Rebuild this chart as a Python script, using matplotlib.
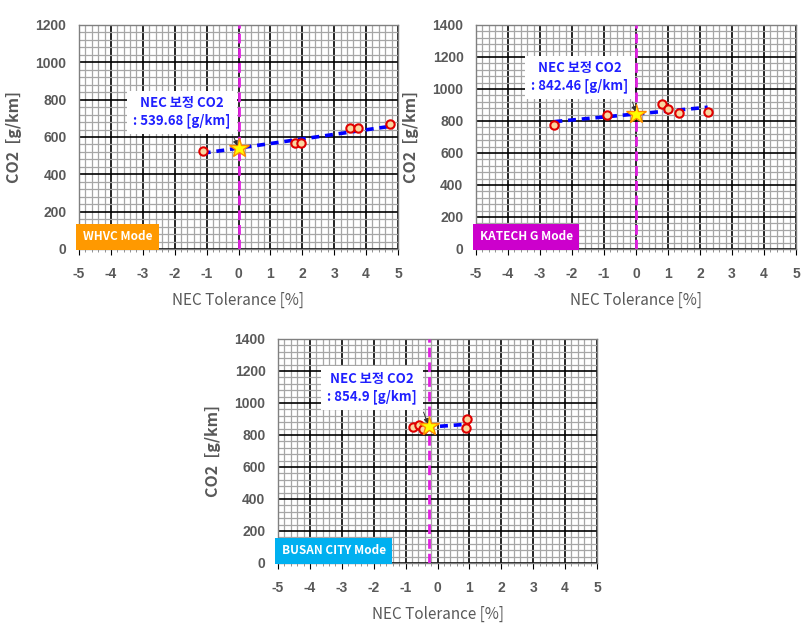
import matplotlib

matplotlib.use("Agg")

import matplotlib.pyplot as plt  # noqa: E402
from matplotlib.ticker import MultipleLocator  # noqa: E402

plt.rcParams["axes.unicode_minus"] = False

# WHVC mode
whvc_x = [-1.12, 1.76, 1.97, 3.50, 3.76, 4.75]
whvc_y = [525, 569, 569, 646, 646, 670]
whvc_trend_x = [-1.12, 4.75]
whvc_trend_y = [513, 657]
whvc_nec_x = 0.0
whvc_nec_y = 539.68
whvc_nec_label = "539.68"

# KATECH G mode
katech_x = [-2.55, -0.90, 0.80, 0.99, 1.35, 2.24]
katech_y = [775, 837, 906, 873, 848, 858]
katech_trend_x = [-2.55, 2.24]
katech_trend_y = [796, 886]
katech_nec_x = 0.0
katech_nec_y = 842.46
katech_nec_label = "842.46"

# BUSAN CITY mode
busan_x = [-0.78, -0.57, -0.45, 0.93, 0.89]
busan_y = [848, 862, 836, 898, 842]
busan_trend_x = [-0.78, 0.92]
busan_trend_y = [842, 867]
busan_nec_x = -0.27
busan_nec_y = 854.9
busan_nec_label = "854.9"

GRAY = "#595959"
KR = ["Noto Sans CJK KR", "DejaVu Sans"]
NARROW = ["Liberation Sans Narrow", "Liberation Sans", "DejaVu Sans"]


def draw_panel(ax, xs, ys, tx, ty, nx, ny, nlabel, ymax, mode, mode_color, box_xy, rel):
    ax.set_xlim(-5, 5)
    ax.set_ylim(0, ymax)
    ax.xaxis.set_major_locator(MultipleLocator(1))
    ax.xaxis.set_minor_locator(MultipleLocator(0.2))
    ax.yaxis.set_major_locator(MultipleLocator(200))
    ax.yaxis.set_minor_locator(MultipleLocator(40))
    ax.set_axisbelow(True)
    ax.grid(which="minor", color="#a6a6a6", lw=0.9)
    ax.grid(which="major", color="black", lw=1.2)
    for s in ax.spines.values():
        s.set_color("#808080")
        s.set_linewidth(1.0)

    ax.tick_params(axis="y", which="both", length=0, pad=9, labelcolor=GRAY)
    ax.tick_params(axis="x", which="major", length=4, pad=9, labelcolor=GRAY, color="black")
    ax.tick_params(axis="x", which="minor", length=2, color="#808080")
    for lab in ax.get_xticklabels() + ax.get_yticklabels():
        lab.set_fontfamily(NARROW)
        lab.set_fontweight("bold")
        lab.set_fontsize(10)

    ax.axvline(nx, color="#e020e0", lw=2, ls=(0, (3.5, 1.8)), zorder=3)
    ax.plot(tx, ty, color="#0000ff", lw=2.6, ls=(0, (2.2, 1.6)), zorder=4)
    ax.plot(xs, ys, ls="none", marker="o", ms=6, mfc="#fad7a0", mec="#e00000", mew=1.5, zorder=5)
    ax.plot([nx], [ny], ls="none", marker="*", ms=15, mfc="#ffff00", mec="#ff8c00", mew=1.0, zorder=6)

    ax.annotate(
        f"NEC 보정 CO2\n: {nlabel} [g/km]",
        xy=(nx, ny),
        xytext=box_xy,
        textcoords="axes fraction",
        ha="center",
        va="center",
        fontsize=9.5,
        fontweight="bold",
        family=KR,
        color="#2020ff",
        linespacing=1.3,
        bbox=dict(boxstyle="square,pad=0.45", fc="white", ec="none"),
        arrowprops=dict(arrowstyle="-|>", color="#303030", lw=0.7,
                        mutation_scale=7, relpos=rel, shrinkB=2),
        zorder=7,
    )

    ax.text(
        0.012, 0.055, mode,
        transform=ax.transAxes,
        ha="left", va="center",
        fontsize=8.5, fontweight="bold", family=KR, color="white",
        bbox=dict(boxstyle="square,pad=0.55", fc=mode_color, ec="none"),
        zorder=7,
    )

    ax.set_xlabel("NEC Tolerance [%]", color=GRAY, fontsize=11, family=KR, labelpad=8)
    ax.set_ylabel("CO2  [g/km]", color=GRAY, fontsize=11.5, fontweight="bold", family=KR, labelpad=10)


fig = plt.figure(figsize=(8.09, 6.35), dpi=100)
ax1 = fig.add_axes([79 / 809, 1 - 249 / 635, 319 / 809, 224 / 635])
ax2 = fig.add_axes([476 / 809, 1 - 249 / 635, 320 / 809, 224 / 635])
ax3 = fig.add_axes([278 / 809, 1 - 563 / 635, 319 / 809, 224 / 635])

draw_panel(ax1, whvc_x, whvc_y, whvc_trend_x, whvc_trend_y, whvc_nec_x, whvc_nec_y, whvc_nec_label,
           1200, "WHVC Mode", "#ff9900", (0.323, 0.612), (0.97, 0.15))
draw_panel(ax2, katech_x, katech_y, katech_trend_x, katech_trend_y, katech_nec_x, katech_nec_y,
           katech_nec_label, 1400, "KATECH G Mode", "#cc00cc", (0.325, 0.766), (0.97, 0.5))
draw_panel(ax3, busan_x, busan_y, busan_trend_x, busan_trend_y, busan_nec_x, busan_nec_y,
           busan_nec_label, 1400, "BUSAN CITY Mode", "#00b0f0", (0.295, 0.783), (0.97, 0.5))

fig.savefig("out.png", dpi=100)
